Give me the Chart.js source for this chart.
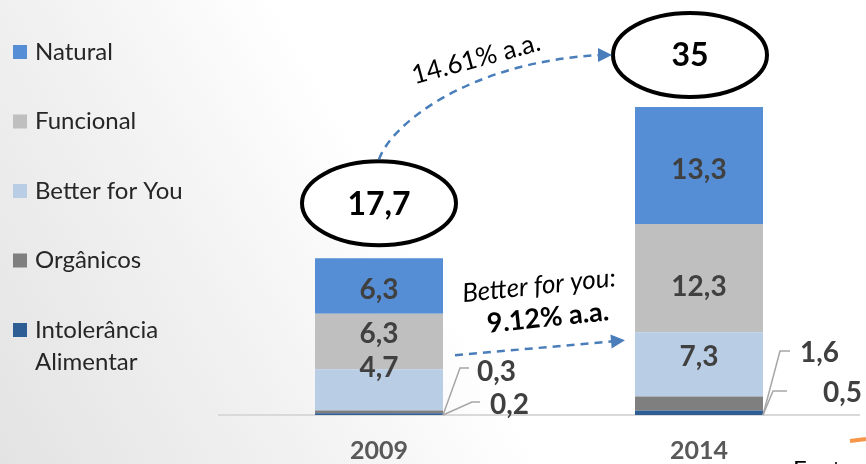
<!DOCTYPE html>
<html>
<head>
<meta charset="utf-8">
<style>
    html, body { margin: 0; padding: 0; }
    body {
        width: 866px; height: 464px; overflow: hidden;
        background: linear-gradient(60deg, #e3e3e3 0%, #f2f2f2 28%, #ffffff 48%);
    }
    canvas { display: block; }
</style>
<script src="https://cdn.jsdelivr.net/npm/chart.js@4"></script>
</head>
<body>
<canvas id="grafico" width="866" height="464"></canvas>
<script>
// Dados do gráfico (R$ bilhões), da base para o topo da pilha
const categorias = ['2009', '2014'];
const intolerancia = [0.2, 0.5];
const organicos = [0.3, 1.6];
const betterForYou = [4.7, 7.3];
const funcional = [6.3, 12.3];
const natural = [6.3, 13.3];
const totais = [17.7, 35];
const crescimentoTotal = '14.61% a.a.';
const crescimentoBfy = ['Better for you:', '9.12% a.a.'];

const fonte = 'Lato, "Open Sans", sans-serif';
const corRotulo = '#404040';
const corSeta = '#4A7EBB';

// Rótulos pequenos ficam fora da barra, com linha guia (relativos ao canto inferior direito da barra)
const rotulosExternos = {
    '1-0': { ex: 17, ey: -47, lx: 26, tx: 34, ty: -43 },
    '0-0': { ex: 29, ey: -13, lx: 37, tx: 47, ty: -10 },
    '1-1': { ex: 17, ey: -64, lx: 27, tx: 37, ty: -62 },
    '0-1': { ex: 10, ey: -24, lx: 24, tx: 60, ty: -22 }
};
// Pequenos ajustes verticais dos rótulos internos, como no original
const ajusteRotulo = { '2-0': -22, '3-0': -8, '4-0': 4, '2-1': -7, '3-1': 9, '4-1': 4 };
// Posição das elipses de total em relação ao topo de cada barra
const deslocElipse = [{ dx: 0, dy: -55 }, { dx: -9, dy: -52 }];

const formatar = v => String(v).replace('.', ',');

const quebrarTexto = (ctx, texto, largura) => {
    const palavras = texto.split(' ');
    const linhas = [];
    let atual = '';
    palavras.forEach(p => {
        const teste = atual ? atual + ' ' + p : p;
        if (atual && ctx.measureText(teste).width > largura) {
            linhas.push(atual);
            atual = p;
        } else {
            atual = teste;
        }
    });
    linhas.push(atual);
    return linhas;
};

const setaTriangulo = (ctx, x, y, angulo) => {
    ctx.save();
    ctx.translate(x, y);
    ctx.rotate(angulo);
    ctx.beginPath();
    ctx.moveTo(0, 0);
    ctx.lineTo(-14, -7);
    ctx.lineTo(-14, 7);
    ctx.closePath();
    ctx.fill();
    ctx.restore();
};

// Legenda à esquerda, na ordem inversa da pilha
const pluginLegenda = {
    id: 'legendaLateral',
    afterDraw(chart) {
        const ctx = chart.ctx;
        ctx.save();
        ctx.font = `24px ${fonte}`;
        ctx.textBaseline = 'middle';
        ctx.textAlign = 'left';
        let y = 52;
        chart.data.datasets.slice().reverse().forEach(ds => {
            ctx.fillStyle = ds.backgroundColor;
            ctx.fillRect(13, y - 7, 14, 14);
            ctx.fillStyle = '#262626';
            quebrarTexto(ctx, ds.label, 170).forEach((linha, k) => ctx.fillText(linha, 35, y + k * 32));
            y += 69.5;
        });
        ctx.restore();
    }
};

// Valores de cada segmento
const pluginRotulos = {
    id: 'rotulos',
    afterDatasetsDraw(chart) {
        const ctx = chart.ctx;
        const base = chart.scales.y.getPixelForValue(0);
        ctx.save();
        ctx.font = `bold 28px ${fonte}`;
        ctx.textBaseline = 'middle';
        chart.data.datasets.forEach((ds, i) => {
            chart.getDatasetMeta(i).data.forEach((bar, j) => {
                const chave = i + '-' + j;
                const texto = formatar(ds.data[j]);
                const ext = rotulosExternos[chave];
                ctx.fillStyle = corRotulo;
                if (ext) {
                    const direita = bar.x + bar.width / 2;
                    ctx.strokeStyle = '#a6a6a6';
                    ctx.lineWidth = 1.5;
                    ctx.beginPath();
                    ctx.moveTo(direita, base);
                    ctx.lineTo(direita + ext.ex, base + ext.ey);
                    ctx.lineTo(direita + ext.lx, base + ext.ey);
                    ctx.stroke();
                    ctx.textAlign = 'left';
                    ctx.fillText(texto, direita + ext.tx, base + ext.ty);
                } else {
                    ctx.textAlign = 'center';
                    ctx.fillText(texto, bar.x, (bar.y + bar.base) / 2 + (ajusteRotulo[chave] || 0));
                }
            });
        });
        ctx.restore();
    }
};

// Elipses de total e setas de crescimento
const pluginAnotacoes = {
    id: 'anotacoes',
    afterDraw(chart) {
        const ctx = chart.ctx;
        const n = chart.data.datasets.length;
        const topo = chart.getDatasetMeta(n - 1).data;
        const bfy = chart.getDatasetMeta(2).data;
        const elipses = topo.map((b, j) => ({ x: b.x + deslocElipse[j].dx, y: b.y + deslocElipse[j].dy }));
        const rx = 77, ry = 42;
        ctx.save();

        elipses.forEach((e, j) => {
            ctx.beginPath();
            ctx.ellipse(e.x, e.y, rx, ry, 0, 0, Math.PI * 2);
            ctx.fillStyle = '#ffffff';
            ctx.fill();
            ctx.lineWidth = 4;
            ctx.strokeStyle = '#000000';
            ctx.stroke();
            ctx.fillStyle = '#000000';
            ctx.font = `bold 32px ${fonte}`;
            ctx.textAlign = 'center';
            ctx.textBaseline = 'middle';
            ctx.fillText(formatar(totais[j]), e.x, e.y + 1);
        });

        // Arco tracejado entre os totais
        const ini = { x: elipses[0].x, y: elipses[0].y - ry - 2 };
        const ponta = { x: elipses[1].x - rx - 1, y: elipses[1].y };
        ctx.strokeStyle = corSeta;
        ctx.fillStyle = corSeta;
        ctx.lineWidth = 2.5;
        ctx.setLineDash([8, 6]);
        ctx.beginPath();
        ctx.moveTo(ini.x, ini.y);
        ctx.bezierCurveTo(ini.x + 12, ini.y - 35, ini.x + 90, ponta.y + 7, ponta.x - 12, ponta.y);
        ctx.stroke();
        ctx.setLineDash([]);
        setaTriangulo(ctx, ponta.x, ponta.y, 0);

        // Seta reta do Better for You
        const b0 = bfy[0], b1 = bfy[1];
        const s0 = { x: b0.x + b0.width / 2 + 12, y: b0.y - 14 };
        const s1 = { x: b1.x - b1.width / 2 - 10, y: b1.y + 8 };
        const ang = Math.atan2(s1.y - s0.y, s1.x - s0.x);
        ctx.setLineDash([8, 6]);
        ctx.beginPath();
        ctx.moveTo(s0.x, s0.y);
        ctx.lineTo(s1.x - 12 * Math.cos(ang), s1.y - 12 * Math.sin(ang));
        ctx.stroke();
        ctx.setLineDash([]);
        setaTriangulo(ctx, s1.x, s1.y, ang);

        // Textos de crescimento
        ctx.fillStyle = '#000000';
        ctx.textAlign = 'center';
        ctx.textBaseline = 'middle';
        ctx.save();
        ctx.translate(elipses[0].x + 97, elipses[1].y + 4);
        ctx.rotate(-15 * Math.PI / 180);
        ctx.font = `26px ${fonte}`;
        ctx.fillText(crescimentoTotal, 0, 0);
        ctx.restore();

        const meio = { x: (s0.x + s1.x) / 2, y: (s0.y + s1.y) / 2 };
        ctx.save();
        ctx.translate(meio.x - 1, meio.y - 62);
        ctx.rotate(-6 * Math.PI / 180);
        ctx.font = `italic 26px ${fonte}`;
        ctx.fillText(crescimentoBfy[0], 0, 0);
        ctx.restore();
        ctx.save();
        ctx.translate(meio.x + 8, meio.y - 30);
        ctx.rotate(-6 * Math.PI / 180);
        ctx.font = `bold 27px ${fonte}`;
        ctx.fillText(crescimentoBfy[1], 0, 0);
        ctx.restore();

        // Início da nota de fonte, cortada na borda
        ctx.strokeStyle = '#F79646';
        ctx.lineWidth = 4;
        ctx.beginPath();
        ctx.moveTo(850, 441);
        ctx.lineTo(866, 439);
        ctx.stroke();
        ctx.textAlign = 'left';
        ctx.textBaseline = 'alphabetic';
        ctx.font = `24px ${fonte}`;
        ctx.fillText('Fonte:', 793, 478);
        ctx.restore();
    }
};

new Chart(document.getElementById('grafico'), {
    type: 'bar',
    data: {
        labels: categorias,
        datasets: [
            { label: 'Intolerância Alimentar', data: intolerancia, backgroundColor: '#2F5E94' },
            { label: 'Orgânicos', data: organicos, backgroundColor: '#7F7F7F' },
            { label: 'Better for You', data: betterForYou, backgroundColor: '#B9CDE5' },
            { label: 'Funcional', data: funcional, backgroundColor: '#BFBFBF' },
            { label: 'Natural', data: natural, backgroundColor: '#558ED5' }
        ]
    },
    options: {
        responsive: false,
        animation: false,
        devicePixelRatio: 1,
        layout: { padding: { left: 219, right: 7, top: 63, bottom: 0 } },
        datasets: { bar: { categoryPercentage: 1, barPercentage: 0.4, borderWidth: 0 } },
        plugins: {
            legend: { display: false },
            tooltip: { enabled: false }
        },
        scales: {
            x: {
                stacked: true,
                grid: { display: false },
                border: { display: true, color: '#d9d9d9', width: 2 },
                ticks: { color: '#595959', padding: 13, font: { family: fonte, size: 25, weight: 'bold' } },
                afterFit: scale => { scale.height = 49; }
            },
            y: {
                stacked: true,
                display: false,
                min: 0,
                max: 40
            }
        }
    },
    plugins: [pluginLegenda, pluginRotulos, pluginAnotacoes]
});
</script>
</body>
</html>
